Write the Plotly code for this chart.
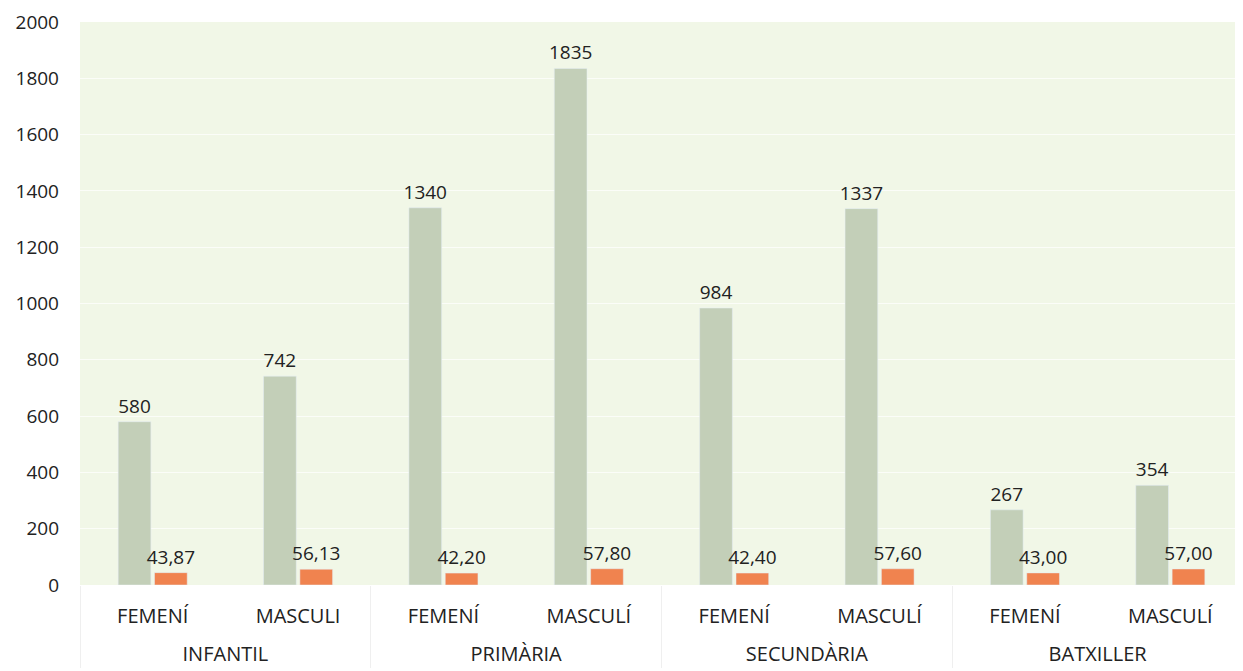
import plotly.graph_objects as go

groups = ["INFANTIL", "INFANTIL", "PRIMÀRIA", "PRIMÀRIA", "SECUNDÀRIA", "SECUNDÀRIA", "BATXILLER", "BATXILLER"]
sexes = ["FEMENÍ", "MASCULI", "FEMENÍ", "MASCULÍ", "FEMENÍ", "MASCULÍ", "FEMENÍ", "MASCULÍ"]
alumnes = [580, 742, 1340, 1835, 984, 1337, 267, 354]
percent = [43.87, 56.13, 42.20, 57.80, 42.40, 57.60, 43.00, 57.00]
percent_labels = ["43,87", "56,13", "42,20", "57,80", "42,40", "57,60", "43,00", "57,00"]

font = "'Open Sans', sans-serif"

# group labels sit one line lower, under the sub-category labels
group_display = ["<br>" + g for g in groups]

fig = go.Figure()
fig.add_trace(go.Bar(
    x=[group_display, sexes], y=alumnes, name="Alumnes",
    marker_color="#c3cfb8",
    text=[str(v) for v in alumnes], textposition="outside",
    textfont=dict(size=19, color="#222222", family=font),
    constraintext="none", cliponaxis=False,
))
fig.add_trace(go.Bar(
    x=[group_display, sexes], y=percent, name="%",
    marker_color="#f0834f",
    text=percent_labels, textposition="outside",
    textfont=dict(size=19, color="#222222", family=font),
    constraintext="none", cliponaxis=False,
))

fig.update_layout(
    width=1235, height=663,
    margin=dict(l=72, r=0, t=14, b=86, autoexpand=False),
    paper_bgcolor="white",
    plot_bgcolor="#f1f7e7",
    barmode="group",
    bargap=0.5, bargroupgap=0.1,
    showlegend=False,
    font=dict(family=font, size=19, color="#222222"),
)
fig.update_yaxes(
    range=[0, 2000], dtick=200,
    showgrid=True, gridcolor="#fbfdf8", gridwidth=1,
    zeroline=False, ticks="", ticklabelstandoff=20, automargin=False,
    tickfont=dict(size=19, color="#222222"),
)
fig.update_xaxes(
    type="multicategory", automargin=False,
    showgrid=False, showline=False,
    showdividers=True, dividercolor="#efefef", dividerwidth=1,
    ticklabelstandoff=17,
    tickfont=dict(size=20, color="#222222"),
)

fig.write_html("out.html")
